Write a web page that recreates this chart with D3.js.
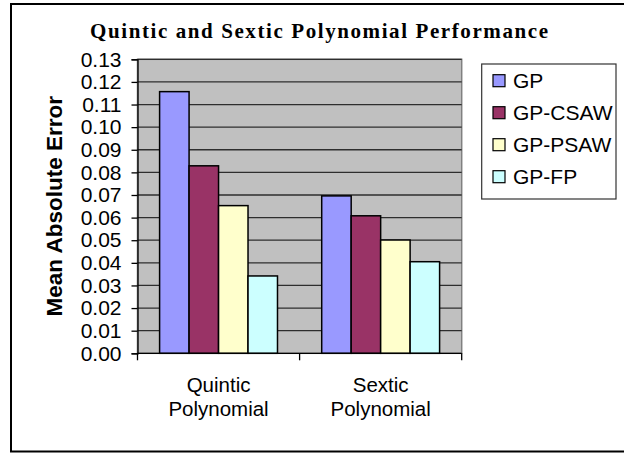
<!DOCTYPE html>
<html>
<head>
<meta charset="utf-8">
<script src="https://cdn.jsdelivr.net/npm/d3@7"></script>
<style>
  body { margin: 0; background: #fff; }
  svg { display: block; }
</style>
</head>
<body>
<svg id="chart" width="624" height="454"></svg>
<script>
// chart values
let categories = ["Quintic Polynomial", "Sextic Polynomial"]
let categoryLines = [["Quintic", "Polynomial"], ["Sextic", "Polynomial"]]
let seriesNames = ["GP", "GP-CSAW", "GP-PSAW", "GP-FP"]
let seriesColors = ["#9999FF", "#993366", "#FFFFCC", "#CCFFFF"]
let quinticValues = [0.1157, 0.0829, 0.0653, 0.0342]
let sexticValues = [0.0696, 0.0608, 0.0501, 0.0405]
let yTicks = [0, 0.01, 0.02, 0.03, 0.04, 0.05, 0.06, 0.07, 0.08, 0.09, 0.10, 0.11, 0.12, 0.13]

let rows = [quinticValues, sexticValues]

const svg = d3.select('#chart')
const sans = '"Liberation Sans", Arial, sans-serif'
const serif = '"Liberation Serif", "Times New Roman", serif'

// outer frame
svg.append('rect')
  .attr('x', 11).attr('y', 4)
  .attr('width', 640).attr('height', 447.5)
  .attr('fill', 'none')
  .attr('stroke', '#000')
  .attr('stroke-width', 2)

const plot = {left: 137.5, right: 461.7, top: 59.3, bottom: 353.3}

let x0 = d3.scaleBand()
  .domain(categories)
  .range([plot.left, plot.right])
  .padding(0)

// excel style gap width 150%
let barW = x0.bandwidth() / 5.5
let groupW = barW * 4

let x1 = d3.scaleBand()
  .domain(seriesNames)
  .range([0, groupW])
  .padding(0)

let y = d3.scaleLinear()
  .domain([0, 0.13])
  .range([plot.bottom, plot.top])

// plot background
svg.append('rect')
  .attr('x', plot.left).attr('y', plot.top)
  .attr('width', plot.right - plot.left)
  .attr('height', plot.bottom - plot.top)
  .attr('fill', '#C0C0C0')
  .attr('stroke', '#808080')
  .attr('stroke-width', 1.5)

// gridlines
svg.append('g')
  .selectAll('line')
  .data(yTicks.slice(1))
  .join('line')
  .attr('x1', plot.left).attr('x2', plot.right)
  .attr('y1', d => y(d)).attr('y2', d => y(d))
  .attr('stroke', '#2e2e2e')
  .attr('stroke-width', 1.3)

// bars
let groups = svg.append('g')
  .selectAll('g')
  .data(rows)
  .join('g')
  .attr('transform', (d, i) => `translate(${x0(categories[i]) + (x0.bandwidth() - groupW) / 2},0)`)

groups.selectAll('rect')
  .data(d => d.map((v, j) => ({name: seriesNames[j], value: v, color: seriesColors[j]})))
  .join('rect')
  .attr('x', d => x1(d.name))
  .attr('y', d => y(d.value))
  .attr('width', x1.bandwidth())
  .attr('height', d => y(0) - y(d.value))
  .attr('fill', d => d.color)
  .attr('stroke', '#000')
  .attr('stroke-width', 1.5)

// y axis
let yAxis = d3.axisLeft(y)
  .tickValues(yTicks)
  .tickFormat(d3.format('.2f'))
  .tickSize(6)
  .tickPadding(10)

let yg = svg.append('g')
  .attr('transform', `translate(${plot.left},0)`)
  .call(yAxis)
yg.select('.domain').attr('stroke', '#000').attr('stroke-width', 1.3)
yg.selectAll('.tick line').attr('stroke', '#000').attr('stroke-width', 1.3)
yg.selectAll('text')
  .style('font-family', sans)
  .style('font-size', '21px')
  .attr('fill', '#000')

// x axis line with category separators
svg.append('line')
  .attr('x1', plot.left).attr('x2', plot.right)
  .attr('y1', plot.bottom).attr('y2', plot.bottom)
  .attr('stroke', '#000').attr('stroke-width', 1.3)

let edges = categories.map(c => x0(c)).concat([plot.right])
svg.append('g')
  .selectAll('line')
  .data(edges)
  .join('line')
  .attr('x1', d => d).attr('x2', d => d)
  .attr('y1', plot.bottom).attr('y2', plot.bottom + 7)
  .attr('stroke', '#000').attr('stroke-width', 1.3)

// category labels, two lines each
svg.append('g')
  .selectAll('text')
  .data(categories)
  .join('text')
  .attr('x', d => x0(d) + x0.bandwidth() / 2)
  .attr('y', 391.5)
  .attr('text-anchor', 'middle')
  .style('font-family', sans)
  .style('font-size', '20.5px')
  .selectAll('tspan')
  .data((d, i) => categoryLines[i])
  .join('tspan')
  .attr('x', function() { return this.parentNode.getAttribute('x') })
  .attr('dy', (d, i) => i == 0 ? 0 : 24.5)
  .text(d => d)

// title
svg.append('text')
  .attr('x', 90)
  .attr('y', 38)
  .attr('textLength', 458)
  .attr('lengthAdjust', 'spacing')
  .style('font-family', serif)
  .style('font-weight', 'bold')
  .style('font-size', '21px')
  .text('Quintic and Sextic Polynomial Performance')

// y axis title
svg.append('text')
  .attr('transform', `translate(62,${(plot.top + plot.bottom) / 2}) rotate(-90)`)
  .attr('text-anchor', 'middle')
  .style('font-family', sans)
  .style('font-weight', 'bold')
  .style('font-size', '22.5px')
  .text('Mean Absolute Error')

// legend
let legend = svg.append('g')
legend.append('rect')
  .attr('x', 481.7).attr('y', 64)
  .attr('width', 134.3).attr('height', 135)
  .attr('fill', '#fff')
  .attr('stroke', '#333')
  .attr('stroke-width', 1.2)

let items = legend.selectAll('g')
  .data(seriesNames)
  .join('g')
  .attr('transform', (d, i) => `translate(493,${80.7 + i * 32})`)

items.append('rect')
  .attr('x', 0).attr('y', -6)
  .attr('width', 12).attr('height', 12)
  .attr('fill', (d, i) => seriesColors[i])
  .attr('stroke', '#000')
  .attr('stroke-width', 1.2)

items.append('text')
  .attr('x', 20)
  .attr('dy', '0.36em')
  .style('font-family', sans)
  .style('font-size', '21px')
  .text(d => d)
</script>
</body>
</html>
